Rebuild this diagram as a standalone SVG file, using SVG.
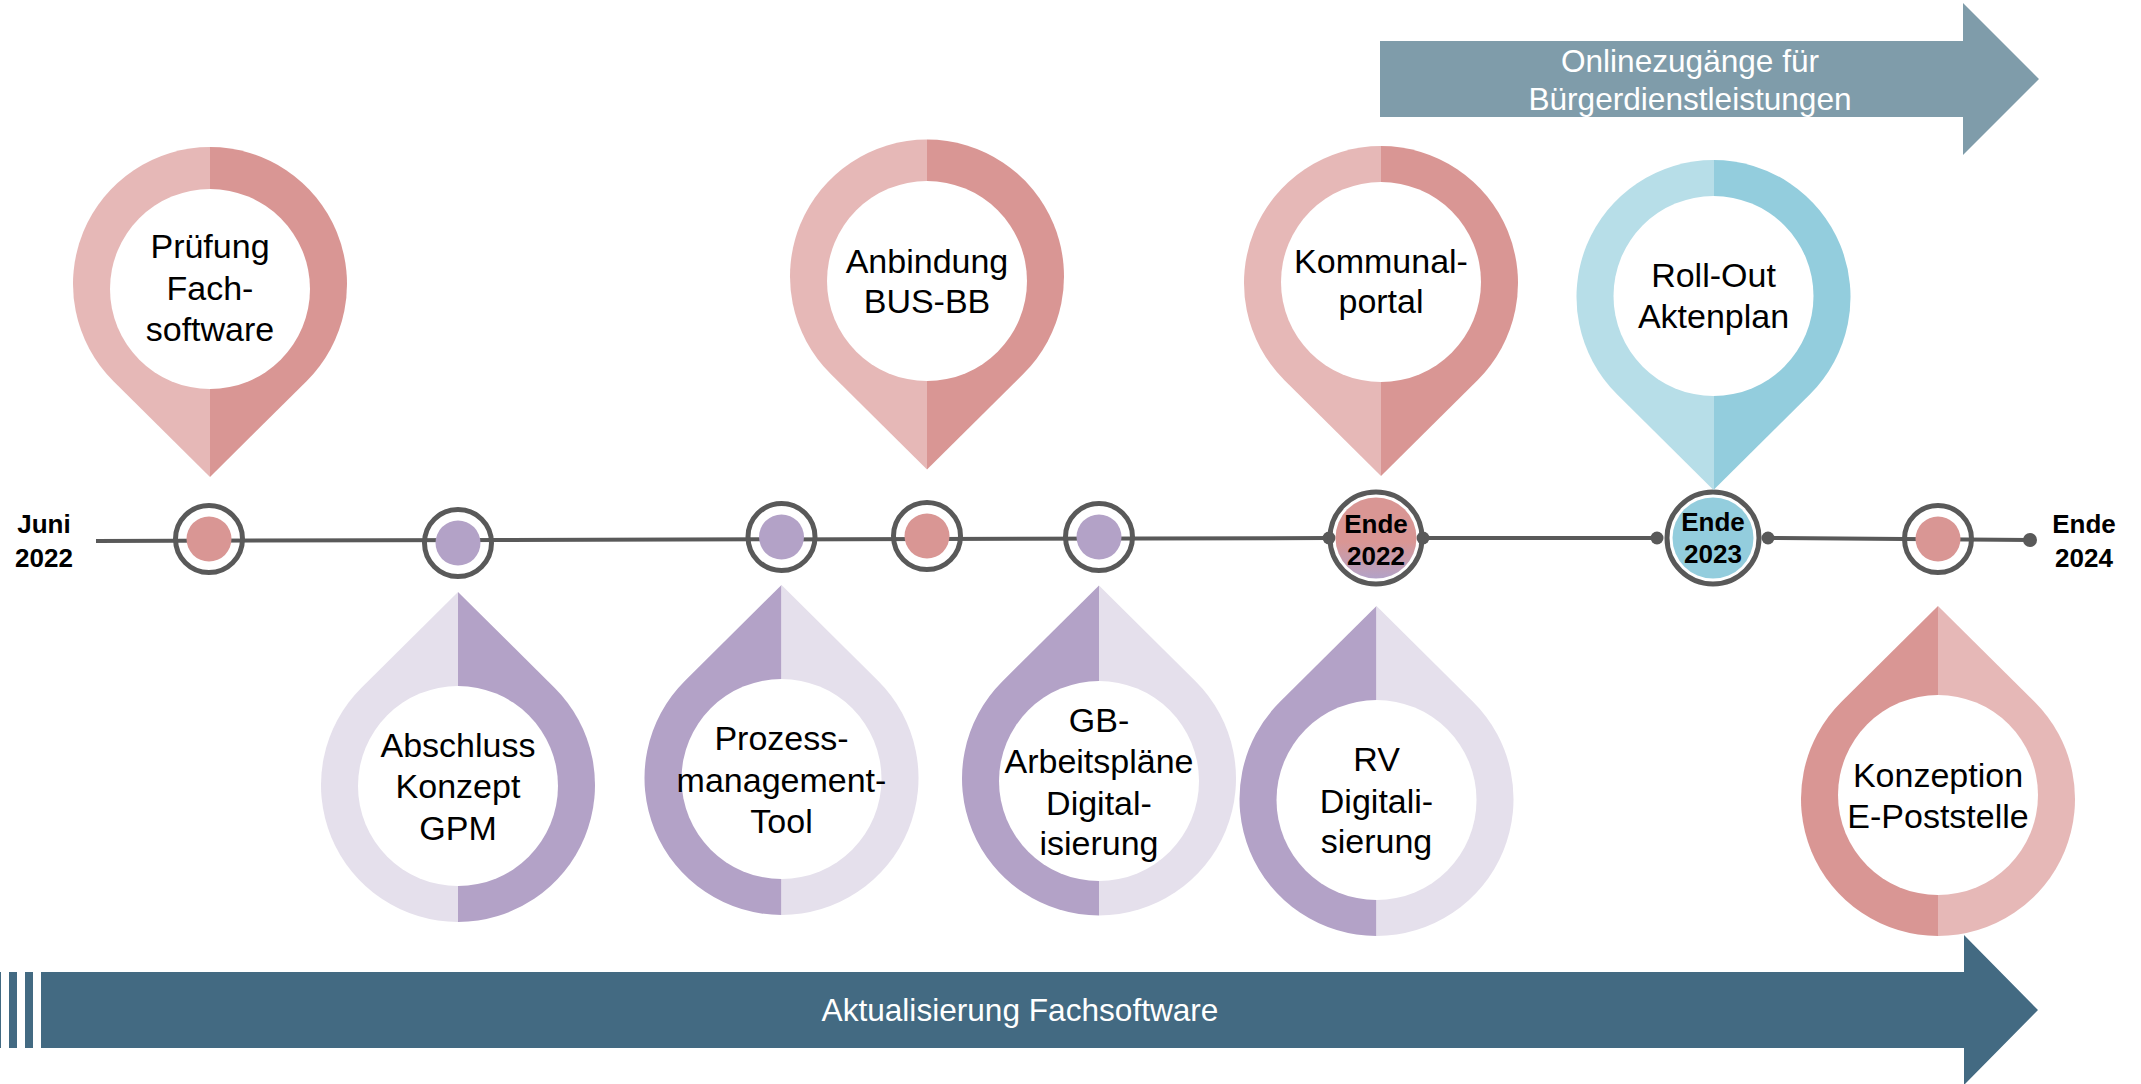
<svg xmlns="http://www.w3.org/2000/svg" width="2141" height="1084" viewBox="0 0 2141 1084">
<style>
.rl{fill:#E6B8B7}.rd{fill:#D99694}
.pl{fill:#E5E0EC}.pd{fill:#B3A2C7}
.bl{fill:#B7DEE8}.bd{fill:#93CDDD}
.hole{fill:#FFFFFF}
.t{font-family:"Liberation Sans",Arial,sans-serif;font-size:34px;fill:#000;text-anchor:middle}
.b{font-family:"Liberation Sans",Arial,sans-serif;font-size:26px;font-weight:bold;fill:#000;text-anchor:middle}
.w{font-family:"Liberation Sans",Arial,sans-serif;font-size:31.6px;fill:#FFFFFF;text-anchor:middle}
.ring{fill:none;stroke:#595959;stroke-width:5}
.line{stroke:#595959;stroke-width:4;fill:none}
.dot{fill:#595959}
</style>
<defs>
<path id="pinL" d="M0,-137 A137,137 0 0 0 -96.5,97.25 L0,193 Z"/>
<path id="pinR" d="M0,-137 A137,137 0 0 1 96.5,97.25 L0,193 Z"/>
<linearGradient id="g22" x1="0" y1="0" x2="0" y2="1">
<stop offset="0" stop-color="#D99694"/>
<stop offset="0.55" stop-color="#D99694"/>
<stop offset="1" stop-color="#B3A2C7"/>
</linearGradient>
</defs>

<g id="arrow-online">
<path d="M1380,41 H1963 V3 L2039,79 L1963,155 V117 H1380 Z" fill="#7F9CAA"/>
<text class="w" x="1690" y="72">Onlinezugänge für</text>
<text class="w" x="1690" y="110">Bürgerdienstleistungen</text>
</g>

<g id="arrow-fachsoftware">
<rect x="-7" y="972" width="8" height="76" fill="#436A82"/>
<rect x="9" y="972" width="8" height="76" fill="#436A82"/>
<rect x="25" y="972" width="8" height="76" fill="#436A82"/>
<path d="M41,972 H1964 V935 L2038,1010 L1964,1085 V1048 H41 Z" fill="#436A82"/>
<text class="w" x="1020" y="1021">Aktualisierung Fachsoftware</text>
</g>

<g id="connectors">
<line class="line" x1="96" y1="541" x2="1329" y2="538"/>
<line class="line" x1="1423" y1="538" x2="1657" y2="538"/>
<line class="line" x1="1768" y1="538" x2="2030" y2="540"/>
<circle class="dot" cx="1329" cy="538" r="6.5"/>
<circle class="dot" cx="1423" cy="538" r="6.5"/>
<circle class="dot" cx="1657" cy="538" r="6.5"/>
<circle class="dot" cx="1768" cy="538" r="6.5"/>
<circle class="dot" cx="2030" cy="540" r="7"/>
</g>

<g id="label-start">
<text class="b" x="44" y="533">Juni</text>
<text class="b" x="44" y="567">2022</text>
</g>
<g id="label-end">
<text class="b" x="2084" y="533">Ende</text>
<text class="b" x="2084" y="567">2024</text>
</g>

<g id="m1"><circle class="ring" cx="209" cy="539" r="33.5"/><circle class="rd" cx="209" cy="539" r="22.5"/></g>
<g id="m2"><circle class="ring" cx="458" cy="543" r="33.5"/><circle class="pd" cx="458" cy="543" r="22.5"/></g>
<g id="m3"><circle class="ring" cx="781.5" cy="537" r="33.5"/><circle class="pd" cx="781.5" cy="537" r="22.5"/></g>
<g id="m4"><circle class="ring" cx="927" cy="536" r="33.5"/><circle class="rd" cx="927" cy="536" r="22.5"/></g>
<g id="m5"><circle class="ring" cx="1099" cy="537" r="33.5"/><circle class="pd" cx="1099" cy="537" r="22.5"/></g>
<g id="m8"><circle class="ring" cx="1938" cy="539" r="33.5"/><circle class="rd" cx="1938" cy="539" r="22.5"/></g>

<g id="ende2022">
<circle cx="1376" cy="538" r="40.5" fill="url(#g22)"/>
<circle class="ring" cx="1376" cy="538" r="46"/>
<text class="b" x="1376" y="533">Ende</text>
<text class="b" x="1376" y="565">2022</text>
</g>
<g id="ende2023">
<circle class="bd" cx="1713" cy="538" r="40.5"/>
<circle class="ring" cx="1713" cy="538" r="46"/>
<text class="b" x="1713" y="531">Ende</text>
<text class="b" x="1713" y="563">2023</text>
</g>

<g id="pin-pruefung">
<use href="#pinL" class="rl" transform="translate(210,284)"/>
<use href="#pinR" class="rd" transform="translate(210,284)"/>
<circle class="hole" cx="210" cy="289" r="100"/>
<text class="t" x="210" y="258">Prüfung</text>
<text class="t" x="210" y="300">Fach-</text>
<text class="t" x="210" y="341">software</text>
</g>

<g id="pin-anbindung">
<use href="#pinL" class="rl" transform="translate(927,276.5)"/>
<use href="#pinR" class="rd" transform="translate(927,276.5)"/>
<circle class="hole" cx="927" cy="281" r="100"/>
<text class="t" x="927" y="273">Anbindung</text>
<text class="t" x="927" y="313">BUS-BB</text>
</g>

<g id="pin-kommunal">
<use href="#pinL" class="rl" transform="translate(1381,283)"/>
<use href="#pinR" class="rd" transform="translate(1381,283)"/>
<circle class="hole" cx="1381" cy="282" r="100"/>
<text class="t" x="1381" y="273">Kommunal-</text>
<text class="t" x="1381" y="313">portal</text>
</g>

<g id="pin-rollout">
<use href="#pinL" class="bl" transform="translate(1713.5,297)"/>
<use href="#pinR" class="bd" transform="translate(1713.5,297)"/>
<circle class="hole" cx="1713.5" cy="296" r="100"/>
<text class="t" x="1713.5" y="287">Roll-Out</text>
<text class="t" x="1713.5" y="328">Aktenplan</text>
</g>

<g id="pin-abschluss">
<use href="#pinL" class="pl" transform="translate(458,785) scale(1,-1)"/>
<use href="#pinR" class="pd" transform="translate(458,785) scale(1,-1)"/>
<circle class="hole" cx="458" cy="786" r="100"/>
<text class="t" x="458" y="757">Abschluss</text>
<text class="t" x="458" y="798">Konzept</text>
<text class="t" x="458" y="840">GPM</text>
</g>

<g id="pin-prozess">
<use href="#pinL" class="pd" transform="translate(781.5,778) scale(1,-1)"/>
<use href="#pinR" class="pl" transform="translate(781.5,778) scale(1,-1)"/>
<circle class="hole" cx="781.5" cy="779" r="100"/>
<text class="t" x="781.5" y="750">Prozess-</text>
<text class="t" x="781.5" y="792">management-</text>
<text class="t" x="781.5" y="833">Tool</text>
</g>

<g id="pin-gb">
<use href="#pinL" class="pd" transform="translate(1099,778.5) scale(1,-1)"/>
<use href="#pinR" class="pl" transform="translate(1099,778.5) scale(1,-1)"/>
<circle class="hole" cx="1099" cy="781" r="100"/>
<text class="t" x="1099" y="732">GB-</text>
<text class="t" x="1099" y="773">Arbeitspläne</text>
<text class="t" x="1099" y="815">Digital-</text>
<text class="t" x="1099" y="855">isierung</text>
</g>

<g id="pin-rv">
<use href="#pinL" class="pd" transform="translate(1376.5,799) scale(1,-1)"/>
<use href="#pinR" class="pl" transform="translate(1376.5,799) scale(1,-1)"/>
<circle class="hole" cx="1376.5" cy="800" r="100"/>
<text class="t" x="1376.5" y="771">RV</text>
<text class="t" x="1376.5" y="813">Digitali-</text>
<text class="t" x="1376.5" y="853">sierung</text>
</g>

<g id="pin-konzeption">
<use href="#pinL" class="rd" transform="translate(1938,799) scale(1,-1)"/>
<use href="#pinR" class="rl" transform="translate(1938,799) scale(1,-1)"/>
<circle class="hole" cx="1938" cy="795" r="100"/>
<text class="t" x="1938" y="787">Konzeption</text>
<text class="t" x="1938" y="828">E-Poststelle</text>
</g>
</svg>
